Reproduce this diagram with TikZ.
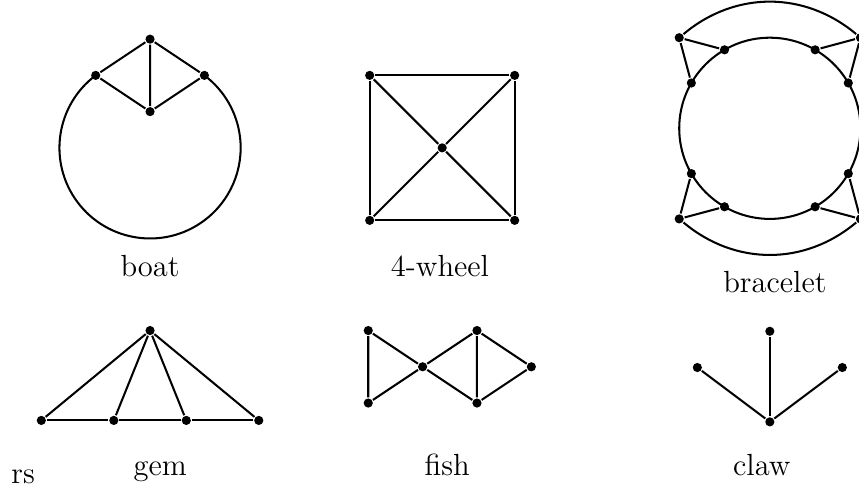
\documentclass[tikz,border=0pt]{standalone}
\usepackage{tikz}
\tikzset{
  vtx/.style   = {circle, fill=black, inner sep=0pt, minimum size=3.6pt},
  gedge/.style = {line width=0.8pt, draw=black},
  lbl/.style   = {font=\large, anchor=base, inner sep=0pt},
}
\begin{document}
\begin{tikzpicture}[line width=0.8pt]
\useasboundingbox (0,0) rectangle (11.85,6.73);

%% boat
\begin{scope}[shift={(2.07,4.69)}]
\node[vtx] (bt) at (0,1.5)     {};
\node[vtx] (bl) at (-0.75,1)   {};
\node[vtx] (br) at (0.75,1)    {};
\node[vtx] (bm) at (0,0.5)     {};
\end{scope}
\draw[gedge] (bt) -- (bl) -- (bm) -- (br) -- (bt) -- (bm);
\draw[gedge] (bl.center) arc[start angle=126.87, end angle=413.13, radius=1.25];
\node[lbl] (boatlbl) at (2.07,2.91) {boat};

%% 4-wheel
\begin{scope}[shift={(6.10,4.69)}]
\node[vtx] (w1) at (-1,1)  {};
\node[vtx] (w2) at (1,1)   {};
\node[vtx] (w3) at (1,-1)  {};
\node[vtx] (w4) at (-1,-1) {};
\node[vtx] (w0) at (0,0)   {};
\end{scope}
\draw[gedge] (w1) -- (w2) -- (w3) -- (w4) -- (w1);
\draw[gedge] (w1) -- (w0) -- (w3);
\draw[gedge] (w2) -- (w0) -- (w4);
\node[lbl] (wheellbl) at (6.07,2.92) {4-wheel};

%% bracelet
\begin{scope}[shift={(10.62,4.96)}]
\draw[gedge] (0,0) circle[radius=1.25];
\foreach \a in {30,60,120,150,210,240,300,330}
  \node[vtx] (i\a) at (\a:1.25) {};
\node[vtx] (otl) at (-1.25,1.25)  {};
\node[vtx] (otr) at (1.25,1.25)   {};
\node[vtx] (obl) at (-1.25,-1.25) {};
\node[vtx] (obr) at (1.25,-1.25)  {};
\end{scope}
\draw[gedge] (otl) -- (i120);
\draw[gedge] (otl) -- (i150);
\draw[gedge] (otr) -- (i60);
\draw[gedge] (otr) -- (i30);
\draw[gedge] (obl) -- (i210);
\draw[gedge] (obl) -- (i240);
\draw[gedge] (obr) -- (i300);
\draw[gedge] (obr) -- (i330);
\draw[gedge] (otl) to[bend left=40]  (otr);
\draw[gedge] (obl) to[bend right=40] (obr);
\node[lbl] (braclbl) at (10.69,2.69) {bracelet};

%% gem
\node[vtx] (g0) at (2.07,2.17) {};
\foreach \i/\x in {1/0.57,2/1.57,3/2.57,4/3.57}
  \node[vtx] (g\i) at (\x,0.93) {};
\draw[gedge] (g1) -- (g2) -- (g3) -- (g4);
\foreach \i in {1,...,4}
  \draw[gedge] (g0) -- (g\i);
\node[lbl] (gemlbl) at (2.21,0.17) {gem};

%% fish
\begin{scope}[shift={(5.83,1.67)}]
\node[vtx] (f1) at (-0.75,0.5)  {};
\node[vtx] (f2) at (-0.75,-0.5) {};
\node[vtx] (f0) at (0,0)        {};
\node[vtx] (f3) at (0.75,0.5)   {};
\node[vtx] (f4) at (0.75,-0.5)  {};
\node[vtx] (f5) at (1.5,0)      {};
\end{scope}
\draw[gedge] (f1) -- (f2) -- (f0) -- (f1);
\draw[gedge] (f0) -- (f3) -- (f4) -- (f0);
\draw[gedge] (f3) -- (f5) -- (f4);
\node[lbl] (fishlbl) at (6.17,0.17) {fish};

%% claw
\begin{scope}[shift={(10.62,0.91)}]
\node[vtx] (c0) at (0,0)       {};
\node[vtx] (c1) at (-1,0.75)   {};
\node[vtx] (c2) at (0,1.25)    {};
\node[vtx] (c3) at (1,0.75)    {};
\end{scope}
\foreach \i in {1,2,3}
  \draw[gedge] (c0) -- (c\i);
\node[lbl] (clawlbl) at (10.51,0.17) {claw};

\node[lbl] (rslbl) at (0.32,0.06) {rs};

\end{tikzpicture}
\end{document}
